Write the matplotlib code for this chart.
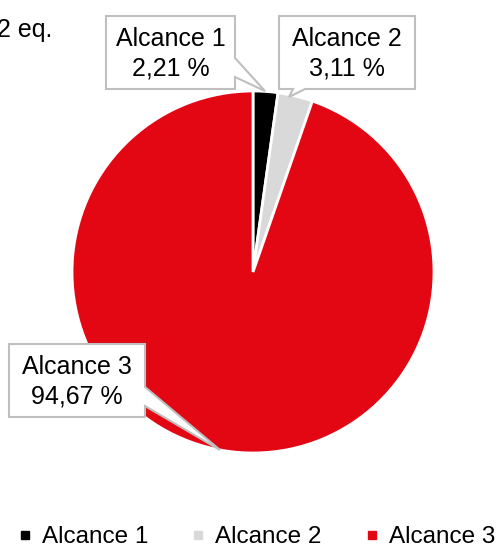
import matplotlib.pyplot as plt
from matplotlib.patches import Polygon
from matplotlib.lines import Line2D

plt.rcParams['font.family'] = ['Liberation Sans', 'DejaVu Sans']

labels = ['Alcance 1', 'Alcance 2', 'Alcance 3']
values = [2.21, 3.11, 94.67]
value_text = ['2,21 %', '3,11 %', '94,67 %']
colors = ['#000000', '#d9d9d9', '#e30613']

H = 549
fig = plt.figure(figsize=(4.99, 5.49), dpi=100)
ax = fig.add_axes([0, 0, 1, 1])

ax.pie(values, colors=colors, startangle=90, counterclock=False,
       center=(253, H - 272), radius=181,
       wedgeprops=dict(edgecolor='white', linewidth=2))

ax.set_xlim(0, 499)
ax.set_ylim(0, H)
ax.set_aspect('equal')
ax.axis('off')

# callout boxes: (left, top, right, bottom) in pixels, plus pointer
def callout(box, pointer, text_lines):
    l, t, r, b = box
    side, p1, p2, tip = pointer
    if side == 'right':
        pts = [(l, t), (r, t), (r, p1), tip, (r, p2), (r, b), (l, b)]
    else:  # bottom
        pts = [(l, t), (r, t), (r, b), (p2, b), tip, (p1, b), (l, b)]
    pts = [(x, H - y) for x, y in pts]
    ax.add_patch(Polygon(pts, closed=True, facecolor='white',
                         edgecolor='#bfbfbf', linewidth=1.5, zorder=5))
    ax.text((l + r) / 2, H - (t + b) / 2 - 1, text_lines, ha='center', va='center',
            fontsize=18, linespacing=1.3, zorder=6)

callout((106, 16, 235, 89), ('right', 58, 77, (265, 91)), labels[0] + '\n' + value_text[0])
callout((279, 16, 415, 89), ('bottom', 293, 305, (289, 97)), labels[1] + '\n' + value_text[1])
callout((9, 344, 145, 417), ('right', 387, 406, (220, 450)), labels[2] + '\n' + value_text[2])

ax.text(-3, H - 30, '2 eq.', ha='left', va='center', fontsize=18)

handles = [Line2D([], [], marker='s', linestyle='', markersize=6,
                  markerfacecolor=c, markeredgecolor=c) for c in colors]
fig.legend(handles, labels, loc='center', bbox_to_anchor=(0.515, 1 - 537 / H),
           ncol=3, frameon=False, fontsize=17.5, handlelength=0.5,
           handletextpad=0.45, columnspacing=1.8, borderaxespad=0)

fig.savefig('out.png', dpi=100)
